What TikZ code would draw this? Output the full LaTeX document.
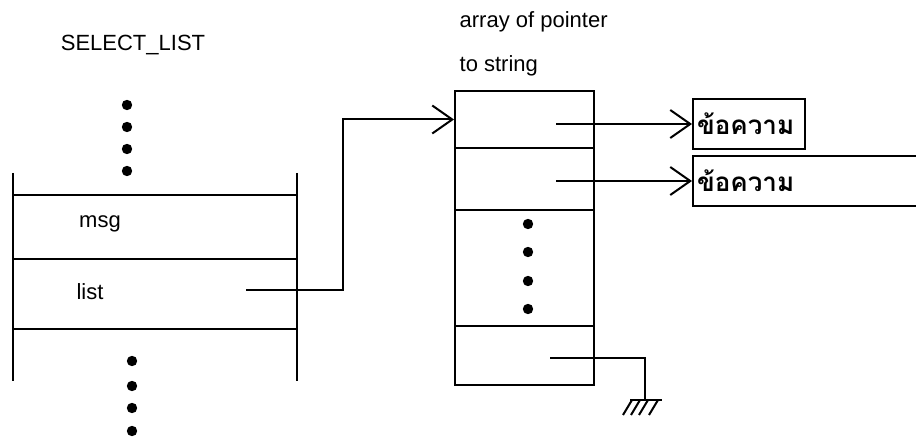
\documentclass[tikz,border=0pt]{standalone}
\usepackage{fontspec}
\setmainfont{Liberation Sans}
\newfontfamily\thaifont[Script=Thai]{Loma}
\usetikzlibrary{arrows.meta}
\tikzset{
  ptr/.style={-{Straight Barb[length=10pt,width=14pt]}, line width=1pt},
  strbox/.style={draw, line width=1pt, anchor=west, minimum height=25pt, inner xsep=2pt, align=left, font=\thaifont\bfseries\fontsize{13}{15}\selectfont},
  cell/.style={draw, line width=1pt, minimum width=69.5pt, inner sep=0pt},
  lbl/.style={font=\fontsize{11}{13}\selectfont},
}

\begin{document}
\begin{tikzpicture}[x=0.5pt,y=-0.5pt, line width=1pt]
		\clip (0,0) rectangle (916,438);
		% SELECT_LIST
		\node (title)[lbl] at (133,45) {SELECT\_LIST};
		\foreach \y in {105,127,149,171} \fill (127,\y) circle (2.6pt);
		\draw (13,173) -- (13,381);
		\draw (297,173) -- (297,381);
		\draw (13,195) -- (297,195);
		\draw (13,259) -- (297,259);
		\draw (13,329) -- (297,329);
		\node (msg)[lbl] at (100,224) {msg};
		\node (list)[lbl] at (90,292) {list};
		\foreach \y in {361,386,408,431} \fill (132,\y) circle (2.6pt);
		\coordinate (listptr) at (246,290);
		\coordinate (turn) at (343,119.5);
		% array of pointer to string
		\node (head1)[lbl, anchor=west] at (452,22) {array of pointer};
		\node (head2)[lbl, anchor=west] at (452,66) {to string};
		\node (c1)[cell, minimum height=28.5pt] at (524.5,119.5) {};
		\node (c2)[cell, minimum height=31pt] at (524.5,179) {};
		\node (c3)[cell, minimum height=58pt] at (524.5,268) {};
		\node (c4)[cell, minimum height=29.5pt] at (524.5,355.5) {};
		\foreach \y in {224,252,281,309} \fill (528,\y) circle (2.6pt);
		\draw [ptr](listptr) -| (turn) -- (c1.west);
		% strings
		\node (s1)[strbox, text width=52pt] at (692,124) {ข้อความ};
		\node (s2)[strbox, text width=120pt] at (692,181) {ข้อความ};
		\coordinate (p1) at (556,124);
		\coordinate (p2) at (556,181);
		\draw [ptr](p1) -- (s1);
		\draw [ptr](p2) -- (s2);
		% null pointer
		\coordinate (p4) at (550,358);
		\coordinate (gnd) at (645,400);
		\draw (p4) -| (gnd);
		\draw (630,400) -- (662,400);
		\foreach \x in {632,640,648,658} \draw (\x,400) -- (\x-9,415);
	\end{tikzpicture}
\end{document}
